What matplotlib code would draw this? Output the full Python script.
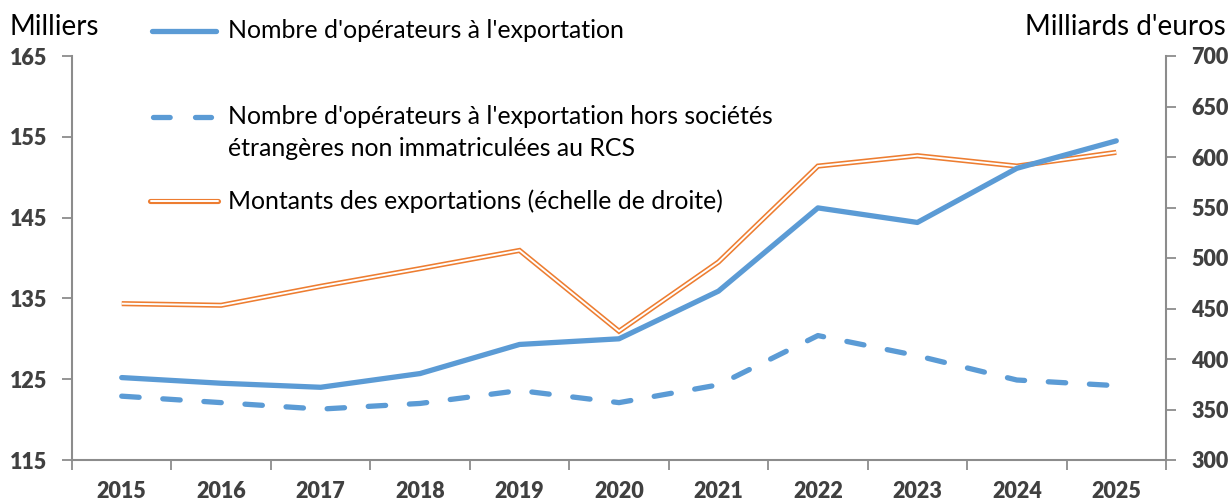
import matplotlib.pyplot as plt
from matplotlib.lines import Line2D

plt.rcParams['font.family'] = ['Lato', 'DejaVu Sans']

years = ['2015', '2016', '2017', '2018', '2019', '2020', '2021', '2022', '2023', '2024', '2025']
operateurs = [125.2, 124.5, 124.0, 125.7, 129.3, 130.0, 135.9, 146.2, 144.4, 151.1, 154.5]
operateurs_hors = [122.9, 122.1, 121.3, 122.0, 123.6, 122.1, 124.3, 130.4, 127.9, 124.9, 124.2]
montants = [454.8, 453.2, 472.0, 489.5, 507.5, 427.5, 496.0, 591.0, 601.3, 591.0, 604.6]

label1 = "Nombre d'opérateurs à l'exportation"
label2a = "Nombre d'opérateurs à l'exportation hors sociétés"
label2b = "étrangères non immatriculées au RCS"
label3 = "Montants des exportations (échelle de droite)"

blue = '#5B9BD5'
orange = '#ED7D31'
grey = '#8C8C8C'
txt = '#404040'

W, H = 1229, 500
fig = plt.figure(figsize=(12.29, 5), dpi=100)
ax = fig.add_axes([72 / W, 1 - 460 / H, (1166 - 72) / W, (460 - 56) / H])
ax2 = ax.twinx()

x = list(range(len(years)))

# orange double line on the right scale
ax2.plot(x, montants, color=orange, lw=3.7, solid_joinstyle='miter', solid_capstyle='butt')
ax2.plot(x, montants, color='white', lw=1.4, solid_joinstyle='miter', solid_capstyle='butt')

ax.plot(x, operateurs, color=blue, lw=3.8, solid_capstyle='round', solid_joinstyle='round')
ax.plot(x, operateurs_hors, color=blue, lw=3.8, dashes=(3.3, 4.5), dash_capstyle='round')

ax.set_zorder(ax2.get_zorder() + 1)
ax.patch.set_visible(False)

ax.set_xlim(-0.5, len(years) - 0.5)
ax.set_ylim(115, 165)
ax2.set_ylim(300, 700)
ax.set_yticks([115, 125, 135, 145, 155, 165])
ax2.set_yticks(range(300, 701, 50))

ax.set_xticks(x)
ax.set_xticklabels(years)
ax.set_xticks([i - 0.5 for i in range(len(years) + 1)], minor=True)
ax.tick_params(axis='x', which='major', length=0, pad=15)
ax.tick_params(axis='x', which='minor', length=7, width=1.3, color=grey, direction='out')
ax.tick_params(axis='y', length=7, width=1.3, color=grey, direction='out', pad=11)
ax2.tick_params(axis='y', length=7, width=1.3, color=grey, direction='out', pad=11)

for a in (ax, ax2):
    for lab in a.get_xticklabels() + a.get_yticklabels():
        lab.set_fontsize(15.5)
        lab.set_fontweight('heavy')
        lab.set_color(txt)
    for s in a.spines.values():
        s.set_visible(False)

ax.spines['left'].set_visible(True)
ax.spines['bottom'].set_visible(True)
ax2.spines['right'].set_visible(True)
for s in (ax.spines['left'], ax.spines['bottom'], ax2.spines['right']):
    s.set_color(grey)
    s.set_linewidth(1.5)

fig.text(10 / W, 1 - 27 / H, 'Milliers', fontsize=20, color='black', va='center')
fig.text(1226 / W, 1 - 27 / H, "Milliards d'euros", fontsize=20, color='black', ha='right', va='center')

# legend drawn by hand (handles at left, text at x=228 px)
tr = fig.transFigure
fig.add_artist(Line2D([152 / W, 216 / W], [1 - 31 / H] * 2, transform=tr, color=blue, lw=3.8,
                      solid_capstyle='round'))
fig.add_artist(Line2D([152.6 / W, 211.4 / W], [1 - 117 / H] * 2, transform=tr, color=blue, lw=3.8,
                      dashes=(3.16, 4.8), dash_capstyle='round'))
fig.add_artist(Line2D([150 / W, 218 / W], [1 - 201 / H] * 2, transform=tr, color=orange, lw=3.7,
                      solid_capstyle='round'))
fig.add_artist(Line2D([150.5 / W, 217.5 / W], [1 - 201 / H] * 2, transform=tr, color='white', lw=1.4,
                      solid_capstyle='round'))

lx = 228 / W
fs = 17.9
fig.text(lx, 1 - 31 / H, label1, fontsize=fs, va='center', color='black')
fig.text(lx, 1 - 117 / H, label2a, fontsize=fs, va='center', color='black')
fig.text(lx, 1 - 148 / H, label2b, fontsize=fs, va='center', color='black')
fig.text(lx, 1 - 201 / H, label3, fontsize=fs, va='center', color='black')

plt.savefig('out.png', dpi=100)
